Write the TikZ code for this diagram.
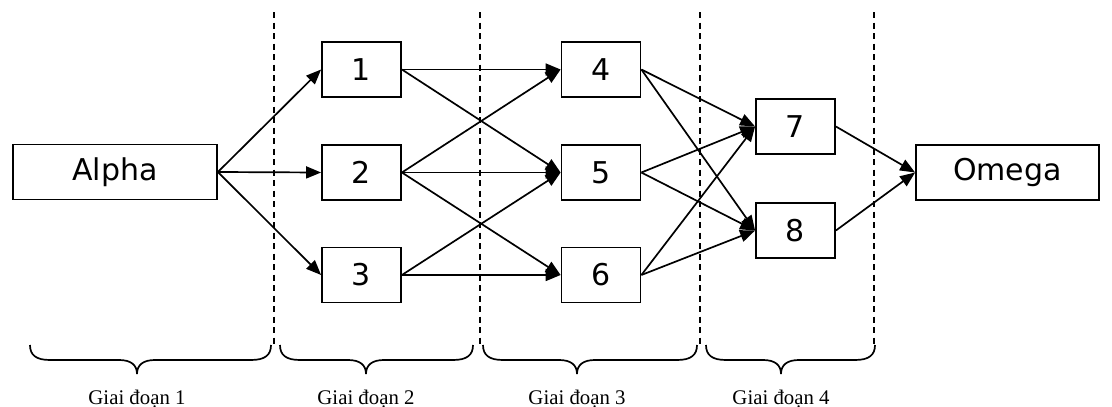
\documentclass[tikz,border=0pt]{standalone}
\usepackage{fontspec}
\setmainfont{Liberation Serif}
\newfontfamily\boxfont{DejaVu Sans}
\usetikzlibrary{arrows.meta}
\newcommand\gbrace[3]{%
  \draw[bracestyle] (#1,345) .. controls (#1,355) and (#1+6,360) .. (#1+20,360)
    -- (#3-18,360) .. controls (#3-6,360) and (#3,365) .. (#3,374)
    .. controls (#3,365) and (#3+6,360) .. (#3+18,360)
    -- (#2-20,360) .. controls (#2-6,360) and (#2,355) .. (#2,345);}
\begin{document}
\begin{tikzpicture}[x=1pt,y=-1pt,
  box/.style={draw, line width=1.8pt, inner sep=0pt, minimum width=79pt, minimum height=55pt,
    font=\boxfont\fontsize{30}{30}\selectfont},
  arr/.style={line width=1.7pt, -{Triangle[length=15pt,width=12pt]}},
  sep/.style={line width=1.7pt, dash pattern=on 6pt off 4.5pt},
  bracestyle/.style={line width=1.7pt},
  lab/.style={font=\fontsize{20.8}{22}\selectfont, anchor=base, inner sep=0pt}]
\useasboundingbox (0,0) rectangle (1112,407);
% separators
\draw[sep] (274,12) -- (274,346);
\draw[sep] (480,12) -- (480,346);
\draw[sep] (700,12) -- (700,346);
\draw[sep] (874,12) -- (874,346);
% nodes
\node[box, minimum width=204pt] (alpha) at (115,172) {Alpha};
\node[box] (n1) at (361.5,69.5) {1};
\node[box] (n2) at (361.5,172.5) {2};
\node[box] (n3) at (361.5,275) {3};
\node[box] (n4) at (601,69.5) {4};
\node[box] (n5) at (601,172.5) {5};
\node[box] (n6) at (601,275) {6};
\node[box] (n7) at (795.5,126.5) {7};
\node[box] (n8) at (795.5,230.5) {8};
\node[box, minimum width=183pt] (omega) at (1007.5,172.5) {Omega};
% edges
\draw[arr] (alpha.east) -- (n1.west);
\draw[arr] (alpha.east) -- (n2.west);
\draw[arr] (alpha.east) -- (n3.west);
\draw[arr] (n1.east) -- (n4.west);
\draw[arr] (n1.east) -- (n5.west);
\draw[arr] (n2.east) -- (n4.west);
\draw[arr] (n2.east) -- (n5.west);
\draw[arr] (n2.east) -- (n6.west);
\draw[arr] (n3.east) -- (n5.west);
\draw[arr] (n3.east) -- (n6.west);
\draw[arr] (n4.east) -- (n7.west);
\draw[arr] (n4.east) -- (n8.west);
\draw[arr] (n5.east) -- (n7.west);
\draw[arr] (n5.east) -- (n8.west);
\draw[arr] (n6.east) -- (n7.west);
\draw[arr] (n6.east) -- (n8.west);
\draw[arr] (n7.east) -- (omega.west);
\draw[arr] (n8.east) -- (omega.west);
% braces
\gbrace{30}{271}{137}
\gbrace{280}{473}{366}
\gbrace{483}{697}{577}
\gbrace{706}{875}{781}
% labels
\node[lab] (l1) at (137,404) {Giai đoạn 1};
\node[lab] (l2) at (366,404) {Giai đoạn 2};
\node[lab] (l3) at (577,404) {Giai đoạn 3};
\node[lab] (l4) at (781,404) {Giai đoạn 4};
\end{tikzpicture}
\end{document}
